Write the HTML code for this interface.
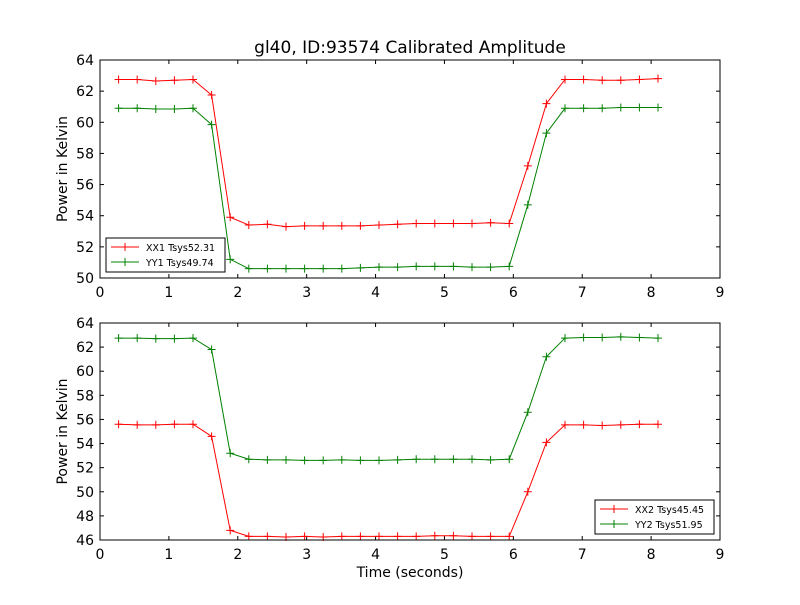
<!DOCTYPE html>
<html><head><meta charset="utf-8"><style>
body{margin:0;background:#fff;}
svg text{font-family:"DejaVu Sans","Liberation Sans",sans-serif;}
</style></head><body>
<svg id="chart" width="800" height="600" xmlns="http://www.w3.org/2000/svg">
<rect width="800" height="600" fill="#fff"/>
<text x="410" y="53" font-size="17" text-anchor="middle">gl40, ID:93574 Calibrated Amplitude</text>
<text x="410" y="577" font-size="14" text-anchor="middle">Time (seconds)</text>
<g id="p1"></g>
<g id="p2"></g>
</svg>
<script>
const times=[0.27,0.54,0.81,1.08,1.35,1.62,1.89,2.16,2.43,2.7,2.97,3.24,3.51,3.78,4.05,4.32,4.59,4.86,5.13,5.4,5.67,5.94,6.21,6.48,6.75,7.02,7.29,7.56,7.83,8.1];
const xx1=[62.75,62.75,62.65,62.7,62.75,61.75,53.9,53.4,53.45,53.3,53.35,53.35,53.35,53.35,53.4,53.45,53.5,53.5,53.5,53.5,53.55,53.5,57.2,61.2,62.75,62.75,62.7,62.7,62.75,62.8];
const yy1=[60.9,60.9,60.85,60.85,60.9,59.85,51.2,50.6,50.6,50.6,50.6,50.6,50.6,50.65,50.7,50.7,50.75,50.75,50.75,50.7,50.7,50.75,54.7,59.3,60.9,60.9,60.9,60.95,60.95,60.95];
const xx2=[55.6,55.55,55.55,55.6,55.6,54.6,46.8,46.3,46.3,46.25,46.3,46.25,46.3,46.3,46.3,46.3,46.3,46.35,46.35,46.3,46.3,46.3,50,54.1,55.55,55.55,55.5,55.55,55.6,55.6];
const yy2=[62.75,62.75,62.7,62.7,62.75,61.8,53.2,52.7,52.65,52.65,52.6,52.6,52.65,52.6,52.6,52.65,52.7,52.7,52.7,52.7,52.65,52.7,56.6,61.2,62.75,62.8,62.8,62.85,62.8,62.75];
const xTicks=[0,1,2,3,4,5,6,7,8,9];
const yTicksTop=[50,52,54,56,58,60,62,64];
const yTicksBot=[46,48,50,52,54,56,58,60,62,64];
const labelsTop=["XX1 Tsys52.31","YY1 Tsys49.74"];
const labelsBot=["XX2 Tsys45.45","YY2 Tsys51.95"];
const NS="http://www.w3.org/2000/svg";
function mk(p,t,a){const e=document.createElementNS(NS,t);for(const k in a)e.setAttribute(k,a[k]);p.appendChild(e);return e;}
function panel(g,top,bot,ymin,ymax,yt,series,labels,legX,legY,pfx){
 const L=100,R=720;
 const sx=v=>L+(v-0)/(9-0)*(R-L);
 const sy=v=>bot-(v-ymin)/(ymax-ymin)*(bot-top);
 for(const t of xTicks){const x=sx(t);
  mk(g,'line',{x1:x,x2:x,y1:bot,y2:bot-4,stroke:'#000'});mk(g,'line',{x1:x,x2:x,y1:top,y2:top+4,stroke:'#000'});
  const tx=mk(g,'text',{x:x,y:bot+19,'font-size':14,'text-anchor':'middle'});tx.textContent=t;
  
  }
 for(const t of yt){const y=sy(t);
  mk(g,'line',{x1:L,x2:L+4,y1:y,y2:y,stroke:'#000'});mk(g,'line',{x1:R,x2:R-4,y1:y,y2:y,stroke:'#000'});
  const tx=mk(g,'text',{x:L-6,y:y+5,'font-size':14,'text-anchor':'end'});tx.textContent=t;
  
  }
 const yl=mk(g,'text',{x:0,y:0,'font-size':14,'text-anchor':'middle',transform:`translate(67,${(top+bot)/2}) rotate(-90)`});
 yl.textContent='Power in Kelvin';
 
 
 series.forEach((s,i)=>{const col=i?'#008000':'#ff0000';
  const pts=times.map((t,j)=>sx(t)+','+sy(s[j])).join(' ');
  const pl=mk(g,'polyline',{points:pts,fill:'none',stroke:col,'stroke-width':1});
  
  
  times.forEach((t,j)=>{const x=sx(t),y=sy(s[j]);
   mk(g,'path',{d:`M${x-4},${y}H${x+4}M${x},${y-4}V${y+4}`,stroke:col});});
 });
 mk(g,'rect',{x:L,y:top,width:R-L,height:bot-top,fill:'none',stroke:'#000'});
 const lg=mk(g,'g',{});
 
 
 mk(lg,'rect',{x:legX,y:legY,width:119,height:34,fill:'#fff',stroke:'#000'});
 labels.forEach((lb,i)=>{const col=i?'#008000':'#ff0000';const y=legY+9+i*15;
  mk(lg,'line',{x1:legX+5,x2:legX+33,y1:y,y2:y,stroke:col});
  mk(lg,'path',{d:`M${legX+15},${y}H${legX+23}M${legX+19},${y-4}V${y+4}`,stroke:col});
  const t=mk(lg,'text',{x:legX+40,y:y+4,'font-size':9.5});t.textContent=lb;
  
  });
}
panel(document.getElementById('p1'),60,278,50,64,yTicksTop,[xx1,yy1],labelsTop,106,238,'top');
panel(document.getElementById('p2'),323,540,46,64,yTicksBot,[xx2,yy2],labelsBot,595,500,'bottom');
</script>
</body></html>
